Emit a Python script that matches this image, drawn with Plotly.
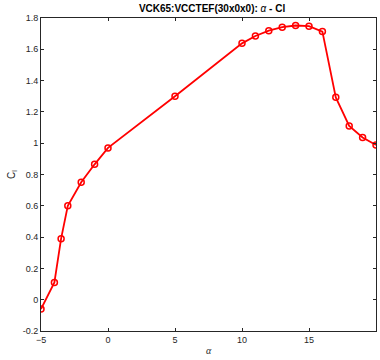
import plotly.graph_objects as go

alpha = [-5, -4, -3.5, -3, -2, -1, 0, 5, 10, 11, 12, 13, 14, 15, 16, 17, 18, 19, 20]
cl = [-0.06, 0.11, 0.39, 0.60, 0.75, 0.865, 0.97, 1.30, 1.638, 1.685, 1.719, 1.741, 1.752, 1.748,
      1.713, 1.293, 1.11, 1.037, 0.988]

fig = go.Figure()
fig.add_trace(go.Scatter(
    x=alpha, y=cl, mode="lines+markers",
    line=dict(color="#ff0000", width=1.8),
    marker=dict(symbol="circle-open", size=6, color="#ff0000", line=dict(width=1.5, color="#ff0000")),
    showlegend=False,
))

axis_common = dict(
    showgrid=False, zeroline=False, showline=True, linecolor="#262626", linewidth=1,
    mirror="ticks", ticks="inside", ticklen=3, tickcolor="#262626",
    tickfont=dict(family="Liberation Sans, Arial", size=9, color="#262626"),
)
fig.update_xaxes(range=[-5, 20], tickvals=[-5, 0, 5, 10, 15, 20], **axis_common,
                 title=dict(text="<i>α</i>", font=dict(family="Liberation Serif", size=10, color="#262626"), standoff=3))
fig.update_yaxes(range=[-0.2, 1.8], tickvals=[-0.2, 0, 0.2, 0.4, 0.6, 0.8, 1, 1.2, 1.4, 1.6, 1.8],
                 ticktext=["-0.2", "0", "0.2", "0.4", "0.6", "0.8", "1", "1.2", "1.4", "1.6", "1.8"],
                 **axis_common,
                 title=dict(text="C<sub>l</sub>", font=dict(family="Liberation Sans, Arial", size=10, color="#262626"), standoff=5))

fig.update_layout(
    width=380, height=360,
    margin=dict(l=41, r=4, t=18, b=29),
    paper_bgcolor="white", plot_bgcolor="white",
    title=dict(text="<b>VCK65:VCCTEF(30x0x0): </b><i>α</i><b> - Cl</b>",
               font=dict(family="Liberation Sans, Arial", size=10, color="#000000"),
               x=0.558, xanchor="center", y=0.985, yanchor="top"),
)
fig.write_html("out.html")
